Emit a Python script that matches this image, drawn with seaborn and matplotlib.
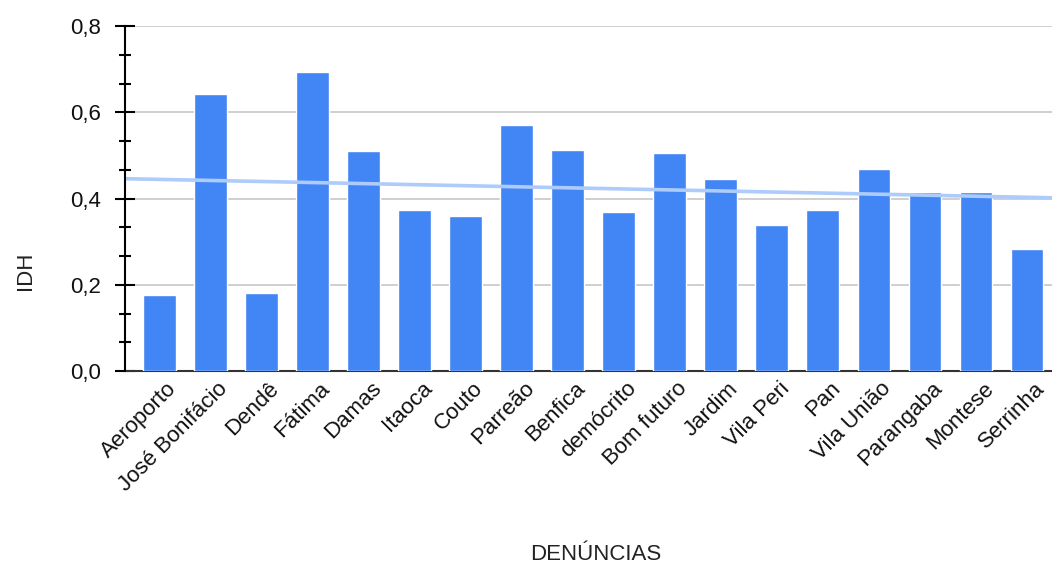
import numpy as np
import pandas as pd
import matplotlib
matplotlib.use("Agg")
import matplotlib.pyplot as plt
from matplotlib.ticker import MultipleLocator, FuncFormatter
from matplotlib.transforms import ScaledTranslation
import seaborn as sns

bairros = ["Aeroporto", "José Bonifácio", "Dendê", "Fátima", "Damas", "Itaoca",
           "Couto", "Parreão", "Benfica", "demócrito", "Bom futuro", "Jardim",
           "Vila Peri", "Pan", "Vila União", "Parangaba", "Montese", "Serrinha"]
idh = [0.176, 0.642, 0.180, 0.693, 0.510, 0.373, 0.359, 0.570, 0.514,
       0.369, 0.505, 0.445, 0.340, 0.373, 0.468, 0.415, 0.415, 0.284]

df = pd.DataFrame({"bairro": bairros, "idh": idh})

sns.set_theme(style="white")
plt.rcParams["font.family"] = ["Liberation Sans", "DejaVu Sans"]

fig = plt.figure(figsize=(10.52, 5.70), dpi=100)
ax = fig.add_axes([0.1188, 0.349, 0.8812, 0.605])

sns.barplot(data=df, x="bairro", y="idh", color="#4285F4", saturation=1,
            width=0.64, ax=ax, zorder=3)

xmin, xmax = -0.67, 17.49
ax.set_xlim(xmin, xmax)
ax.set_ylim(0, 0.8)

# linear trendline over category index
xi = np.arange(len(idh))
slope, intercept = np.polyfit(xi, idh, 1)
xs = np.array([xmin, xmax])
ax.plot(xs, slope * xs + intercept, color="#adcbfb", lw=2.6, zorder=4,
        solid_capstyle="butt")

ax.yaxis.set_major_locator(MultipleLocator(0.2))
ax.yaxis.set_minor_locator(MultipleLocator(0.2 / 3))
ax.yaxis.set_major_formatter(FuncFormatter(lambda v, p: f"{v:.1f}".replace(".", ",")))
ax.grid(axis="y", which="major", color="#cccccc", lw=1.3, zorder=0)
ax.grid(axis="x", visible=False)

for s in ["top", "right"]:
    ax.spines[s].set_visible(False)
ax.spines["left"].set_color("black")
ax.spines["left"].set_linewidth(1.5)
ax.spines["left"].set_zorder(5)
ax.spines["bottom"].set_color("#333333")
ax.spines["bottom"].set_linewidth(1.5)

ax.tick_params(axis="y", which="major", direction="inout", length=14, width=1.5,
               color="black", left=True, labelsize=16, pad=10, labelcolor="#111111")
ax.tick_params(axis="y", which="minor", direction="inout", length=8, width=1.5,
               color="black", left=True)
ax.tick_params(axis="x", length=0, labelsize=16, pad=5, labelcolor="#111111")
shift = ScaledTranslation(7 / 100, 0, fig.dpi_scale_trans)
for lab in ax.get_xticklabels():
    lab.set_rotation(45)
    lab.set_ha("right")
    lab.set_va("top")
    lab.set_rotation_mode("anchor")
    lab.set_transform(lab.get_transform() + shift)

ax.set_xlabel("DENÚNCIAS", fontsize=16, color="#222222")
ax.set_ylabel("IDH", fontsize=16, color="#222222")
ax.xaxis.set_label_coords(0.508, -0.533)
ax.xaxis.label.set_va("center")
ax.yaxis.set_label_coords(-0.107, 0.29)
ax.yaxis.label.set_va("center")

fig.savefig("out.png", dpi=100, facecolor="white")
